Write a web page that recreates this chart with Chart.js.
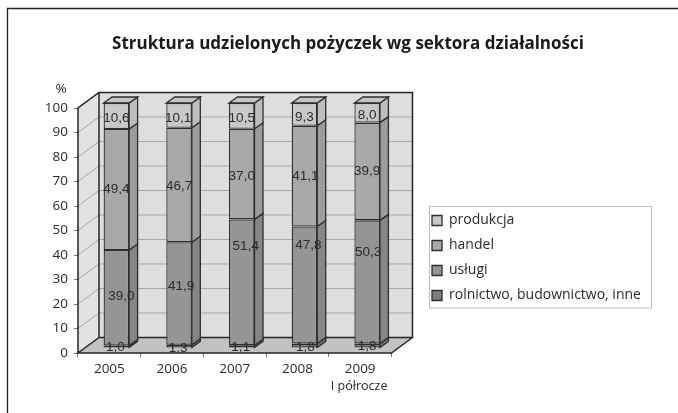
<!DOCTYPE html>
<html lang="pl"><head><meta charset="utf-8">
<style>html,body{margin:0;padding:0;background:#fff}#w{width:678px;height:413px;position:relative}</style>
<script src="https://cdn.jsdelivr.net/npm/chart.js@4/dist/chart.umd.min.js"></script>
</head><body><div id="w"><canvas id="c" width="678" height="413"></canvas></div>
<script>
const chartTitle = 'Struktura udzielonych pożyczek wg sektora działalności';
const categories = ['2005','2006','2007','2008','2009'];
const yTicks = [0,10,20,30,40,50,60,70,80,90,100];
const seriesNames = ['rolnictwo, budownictwo, inne','usługi','handel','produkcja'];
const rolnictwo = [1.0,1.3,1.1,1.8,1.8];
const uslugi = [39.0,41.9,51.4,47.8,50.3];
const handel = [49.4,46.7,37.0,41.1,39.9];
const produkcja = [10.6,10.1,10.5,9.3,8.0];
const seriesValues = [rolnictwo,uslugi,handel,produkcja];
const seriesColors = ['#7d7d7d','#959595','#a8a8a8','#c9c9c9'];
const sideColors = ['#6f6f6f','#868686','#9c9c9c','#bdbdbd'];
const topColor = '#c4c4c4';
const INK = '#2e2e2e';
const FONT = '"Open Sans",sans-serif';
const DEPTH = {x:21,y:-15.5};      // wall depth
const BAR_SHIFT = {x:7,y:-5};      // bars stand inside the floor
const BAR_DEPTH = {x:8.5,y:-6};
// manual placement of data labels in the original, per series / category
const labelNudge = [
 [[-1,1],[-1,2],[-1,1],[1,2],[0,1]],
 [[5,-1],[2,-7],[4,-36],[4,-40],[1,-30]],
 [[0,0],[0,1],[0,2],[1,0],[0,0]],
 [[0,2],[-1,3],[0,2],[0,3],[0,2]]
];
function poly(ctx,pts,fill,stroke,lw){
  ctx.beginPath();pts.forEach((p,i)=>i?ctx.lineTo(p[0],p[1]):ctx.moveTo(p[0],p[1]));ctx.closePath();
  if(fill){ctx.fillStyle=fill;ctx.fill();}
  if(stroke){ctx.strokeStyle=stroke;ctx.lineWidth=lw;ctx.stroke();}
}
const scene = {
  id:'scene',
  beforeDraw(chart){
    const c=chart.ctx;c.save();c.fillStyle='#fff';c.fillRect(0,0,chart.width,chart.height);
    c.strokeStyle='#222';c.lineWidth=1.3;c.beginPath();c.moveTo(7.5,413);c.lineTo(7.5,8.5);c.lineTo(678,8.5);c.stroke();c.restore();
  },
  afterLayout(chart){
    const l=chart.legend;const w=l.width,h=l.height;
    l.left=421;l.right=l.left+w;l.top=202.5;l.bottom=l.top+h;
    const t=chart.titleBlock;t.left=18;t.right=678;const th=t.height;t.top=34;t.bottom=34+th;
  },
  beforeDatasetsDraw(chart){
    const c=chart.ctx,a=chart.chartArea,y=chart.scales.y,dx=DEPTH.x,dy=DEPTH.y;
    c.save();
    poly(c,[[a.left,a.top],[a.left+dx,a.top+dy],[a.left+dx,a.bottom+dy],[a.left,a.bottom]],'#e2e2e2',null);
    poly(c,[[a.left+dx,a.top+dy],[a.right+dx,a.top+dy],[a.right+dx,a.bottom+dy],[a.left+dx,a.bottom+dy]],'#dedede',null);
    poly(c,[[a.left,a.bottom],[a.left+dx,a.bottom+dy],[a.right+dx,a.bottom+dy],[a.right,a.bottom]],'#c2c2c2',null);
    c.strokeStyle='#a9a9a9';c.lineWidth=1;c.beginPath();
    yTicks.slice(1,-1).forEach(v=>{const p=y.getPixelForValue(v);
      c.moveTo(a.left,p);c.lineTo(a.left+dx,p+dy);c.lineTo(a.right+dx,p+dy);});
    c.stroke();
    c.strokeStyle='#262626';c.lineWidth=1.5;c.beginPath();
    c.moveTo(a.left,a.bottom);c.lineTo(a.left,a.top);c.lineTo(a.left+dx,a.top+dy);c.lineTo(a.right+dx,a.top+dy);
    c.lineTo(a.right+dx,a.bottom+dy);c.lineTo(a.left+dx,a.bottom+dy);c.lineTo(a.left+dx,a.top+dy);
    c.moveTo(a.left+dx,a.bottom+dy);c.lineTo(a.left,a.bottom);
    c.lineTo(a.right,a.bottom);c.lineTo(a.right+dx,a.bottom+dy);c.stroke();
    c.save();
    c.translate(BAR_SHIFT.x,BAR_SHIFT.y);
    const bx=BAR_DEPTH.x,by=BAR_DEPTH.y;
    seriesValues.forEach((s,si)=>{
      chart.getDatasetMeta(si).data.forEach(b=>{
        const r=b.x+b.width/2;
        poly(c,[[r,b.y],[r+bx,b.y+by],[r+bx,b.base+by],[r,b.base]],sideColors[si],INK,1.3);
        if(si===seriesValues.length-1){const l=b.x-b.width/2;
          poly(c,[[l,b.y],[l+bx,b.y+by],[r+bx,b.y+by],[r,b.y]],topColor,INK,1.3);}
      });
    });
  },
  afterDatasetsDraw(chart){
    const c=chart.ctx;c.restore();c.restore();
    c.save();c.textAlign='center';c.textBaseline='middle';
    c.font='13.5px "Liberation Sans",sans-serif';c.fillStyle='#2b2b2b';
    seriesValues.forEach((s,si)=>{
      chart.getDatasetMeta(si).data.forEach((b,i)=>{
        const n=labelNudge[si][i];
        c.fillText(s[i].toFixed(1).replace('.',','),b.x+BAR_SHIFT.x+n[0],(b.y+b.base)/2+BAR_SHIFT.y+n[1]);
      });
    });
    c.restore();
  },
  afterDraw(chart){
    const c=chart.ctx,a=chart.chartArea,x=chart.scales.x;
    c.save();c.fillStyle='#2b2b2b';c.textAlign='center';c.textBaseline='middle';
    c.font='13.5px '+FONT;c.fillText('%',61,89);
    c.font='12.5px '+FONT;c.fillText('I półrocze',x.getPixelForValue(4)-1,a.bottom+33.5);
    c.strokeStyle='#bdbdbd';c.lineWidth=1;c.strokeRect(429.5,206.5,222,101.5);
    c.restore();
  }
};
new Chart(document.getElementById('c'),{
  type:'bar',
  data:{labels:categories,datasets:seriesValues.map((s,i)=>({label:seriesNames[i],data:s,
    backgroundColor:seriesColors[i],borderColor:INK,borderWidth:1.3,borderSkipped:false,clip:false,
    barPercentage:0.407,categoryPercentage:1}))},
  plugins:[scene],
  options:{responsive:false,animation:false,devicePixelRatio:1,
    layout:{padding:{left:0,top:87.6,right:286.5,bottom:0}},
    scales:{
      x:{stacked:true,offset:true,
        grid:{display:true,offset:true,drawOnChartArea:false,drawTicks:true,tickLength:4,color:'#777'},
        border:{display:false},
        ticks:{color:'#2b2b2b',font:{family:FONT,size:13.5},padding:4,maxRotation:0},
        afterFit(s){s.height=60;}},
      y:{stacked:true,min:0,max:100,
        afterBuildTicks(s){s.ticks=yTicks.map(v=>({value:v}));},
        grid:{display:true,drawOnChartArea:false,drawTicks:true,tickLength:4,color:'#777'},
        border:{display:false},
        ticks:{color:'#2b2b2b',font:{family:FONT,size:13.5},padding:6},
        afterFit(s){s.width=78;}}
    },
    plugins:{
      title:{display:true,text:chartTitle,color:'#1a1a1a',font:{family:FONT,size:17,weight:'bold',lineHeight:1.2},padding:0},
      legend:{display:true,position:'chartArea',align:'start',reverse:true,
        labels:{boxWidth:10,boxHeight:10,padding:11,color:'#2b2b2b',font:{family:FONT,size:14,lineHeight:1.2}}},
      tooltip:{enabled:false}
    }
  }
});
</script></body></html>
